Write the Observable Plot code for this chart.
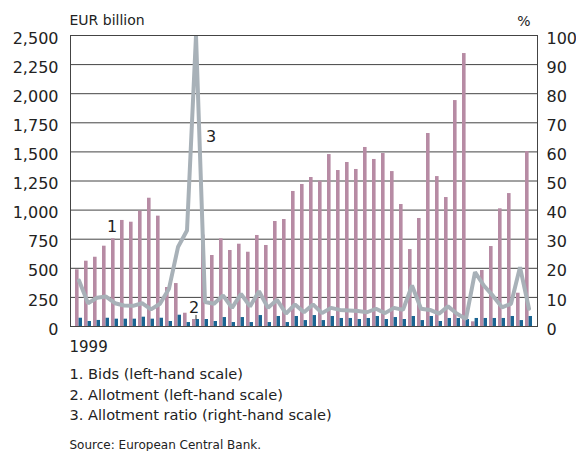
<!DOCTYPE html>
<html><head><meta charset="utf-8">
<script src="https://cdn.jsdelivr.net/npm/d3@7"></script>
<script src="https://cdn.jsdelivr.net/npm/@observablehq/plot@0.6"></script>
<style>body{margin:0;background:#fff;} svg{display:block;}</style>
</head><body><div id="chart"></div>
<script>
const periods = d3.range(1, 52);
const bids = [487,561,595,690,753,911,896,991,1102,948,
  335,369,114,60,785,610,753,653,707,638,
  782,696,902,919,1160,1220,1280,1248,1477,1340,
  1409,1349,1538,1435,1486,1331,1048,661,928,1658,
  1288,1108,1941,2345,40,481,687,1011,1142,286,
  1503];
const allotment = [71,43,52,71,63,63,63,80,63,71,
  43,97,34,60,60,43,77,34,77,34,
  94,34,86,34,86,51,94,51,86,69,
  69,60,69,86,60,77,60,86,51,86,
  43,69,69,60,69,69,69,69,86,51,
  86];
const ratio = [15.8,8.0,9.9,10.3,8.0,7.2,7.1,8.0,5.9,7.8,
  13.0,27.3,33,100,8.4,7.8,10.7,6.4,11.2,6.9,
  12.1,6.4,9.2,4.4,7.6,4.9,7.6,4.6,6.4,5.7,
  5.5,5.3,4.9,6.1,4.6,6.4,5.7,14.1,6.1,5.7,
  4.4,6.9,4.4,2.6,18.7,14.0,10.5,6.6,7.8,20.4,
  6.1];
const leftTicks = d3.range(0, 2501, 250);
const rightTicks = d3.range(0, 101, 10);
const label1 = [{p: 5, v: 859, t: "1"}];
const label2 = [{p: 14, v: 163, t: "2"}];
const label3 = [{p: 15, v: 1632, t: "3"}];
const legendLines = ["1. Bids (left-hand scale)", "2. Allotment (left-hand scale)", "3. Allotment ratio (right-hand scale)"];
const yLeftTitle = "EUR billion";
const yRightTitle = "%";
const startLabel = "1999";
const source = "Source: European Central Bank.";

const data = periods.map((p, i) => ({p, bids: bids[i], allot: allotment[i], ratio: ratio[i]}));
const k = 2500 / 100; // right scale (0-100 %) mapped onto left scale (0-2500)
const txt = {fill: "#222", lineAnchor: "middle"};

const chart = Plot.plot({
  width: 576, height: 451,
  marginLeft: 70, marginRight: 39, marginTop: 35, marginBottom: 125,
  style: {fontFamily: "DejaVu Sans", color: "#222", background: "white", overflow: "visible"},
  x: {type: "band", domain: periods, paddingInner: 0.22, paddingOuter: 0.1, axis: null},
  y: {domain: [0, 2500], axis: null},
  marks: [
    Plot.gridY(leftTicks, {stroke: "#444", strokeOpacity: 1}),
    Plot.barY(data, {x: "p", y: "bids", fill: "#b78ba4", insetRight: 3.4}),
    Plot.barY(data, {x: "p", y: "allot", fill: "#1a6592", insetLeft: 3.6}),
    Plot.line(data, {x: "p", y: d => d.ratio * k, stroke: "#a8b1b8", strokeWidth: 4, strokeLinejoin: "miter", clip: true}),
    Plot.frame({stroke: "#444"}),
    Plot.axisY(leftTicks, {anchor: "left", tickSize: 0, tickPadding: 12, tickFormat: d3.format(","), fontSize: 16, dy: 3, label: null}),
    Plot.axisY(rightTicks, {anchor: "right", y: d => d * k, tickSize: 0, tickPadding: 9, tickFormat: d => d, fontSize: 16, dy: 3, label: null}),
    Plot.text(label1, {x: "p", y: "v", text: "t", fontSize: 16, dx: -3, ...txt}),
    Plot.text(label2, {x: "p", y: "v", text: "t", fontSize: 16, dx: -2, ...txt}),
    Plot.text(label3, {x: "p", y: "v", text: "t", fontSize: 16, dx: 6, ...txt}),
    Plot.ruleX([14], {y1: 95, y2: 55, stroke: "#333", strokeWidth: 1}),
    Plot.text([yLeftTitle], {frameAnchor: "top-left", textAnchor: "start", dx: -1, dy: -15, fontSize: 14, ...txt}),
    Plot.text([yRightTitle], {frameAnchor: "top-right", textAnchor: "end", dx: -7, dy: -14, fontSize: 14, ...txt}),
    Plot.text([startLabel], {frameAnchor: "bottom-left", textAnchor: "start", dx: -1, dy: 21, fontSize: 15, ...txt}),
    Plot.text([legendLines.join("\n")], {frameAnchor: "bottom-left", textAnchor: "start", dx: -1, dy: 66.5, fontSize: 14.6, lineHeight: 1.4, ...txt}),
    Plot.text([source], {frameAnchor: "bottom-left", textAnchor: "start", dx: -1, dy: 119, fontSize: 12, ...txt})
  ]
});
document.getElementById("chart").appendChild(chart);
</script>
</body></html>
